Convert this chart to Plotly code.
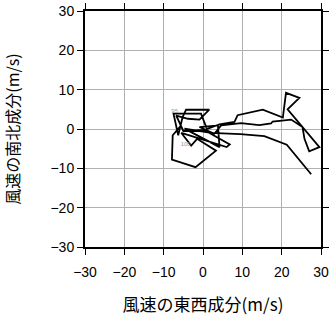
import plotly.graph_objects as go

# Hodograph wind components (m/s)
u = [27.5, 21.3, 15.6, 9.5, 2.0,
     -4.7, 4.2, 3.8, -0.9, 2.9, 4.6,
     9.7, 14.3, 17.3, 17.7, 22.4, 25.3, 25.8, 27.0, 29.6, 21.5, 24.5, 21.1, 20.3, 15.2, 8.8, 8.0, 4.2,
     1.0, -0.5, -7.5, -6.3, -5.2, -4.3, 1.6, 0.0, -0.9, -3.8, -6.8, -5.0, 0.2, 6.8, 6.0,
     -5.5, -4.0, -3.0, -1.5, 3.3, -1.9, -7.9, -7.7, -5.5]
v = [-11.5, -4.0, -1.8, -1.3, -1.0,
     0.1, -4.6, 0.9, 0.5, -1.2, 0.9,
     1.5, 1.0, 1.4, 1.9, 2.4, 0.5, -2.5, -5.7, -4.6, 5.0, 7.9, 9.2, 2.9, 4.9, 3.5, 1.8, 1.2,
     0.0, 3.9, 3.9, -1.6, 3.0, 4.9, 4.9, 3.2, 2.4, 2.6, 3.4, -0.5, -0.2, -3.9, -4.6,
     -1.0, -3.0, -4.2, -2.5, -5.5, -9.7, -7.8, -1.6, 1.0]

label_text = ["95", "100"]
label_u = [-7.2, -4.4]
label_v = [4.4, -3.9]

tick_vals = [-30, -20, -10, 0, 10, 20, 30]
x_title = "風速の東西成分(m/s)"
y_title = "風速の南北成分(m/s)"

font_family = "Liberation Sans, Arial, Noto Sans CJK JP"
cjk_family = "Noto Sans CJK JP"

fig = go.Figure()
fig.add_trace(go.Scatter(x=u, y=v, mode="lines",
                         line=dict(color="black", width=1.8),
                         showlegend=False, hoverinfo="skip"))
fig.add_trace(go.Scatter(x=label_u, y=label_v, mode="text", text=label_text,
                         textfont=dict(size=6, color="#999999", family=font_family),
                         showlegend=False, hoverinfo="skip"))

axis_common = dict(
    range=[-30, 30], tickvals=tick_vals, showgrid=True,
    gridcolor="#b0b0b0", gridwidth=1.3, zeroline=False,
    showline=True, linecolor="black", linewidth=2, mirror="ticks",
    ticks="outside", ticklen=6, tickcolor="black", tickwidth=1,
    automargin=False,
)

fig.update_layout(
    width=331, height=318,
    margin=dict(l=85, r=10, t=11, b=71),
    plot_bgcolor="white", paper_bgcolor="white",
    xaxis=dict(**axis_common, ticklabelstandoff=5,
               tickfont=dict(size=14, color="black", family=font_family),
               title=dict(text=x_title, font=dict(size=17, color="black", family=cjk_family), standoff=20)),
    yaxis=dict(**axis_common,
               tickfont=dict(size=14, color="black", family=font_family),
               title=dict(text=y_title, font=dict(size=16, color="black", family=cjk_family), standoff=30)),
    font=dict(family=font_family),
)

fig.write_html("out.html")
